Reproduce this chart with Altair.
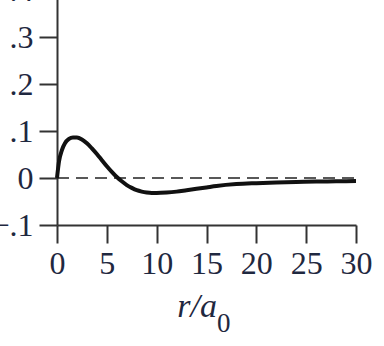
import altair as alt
import pandas as pd

# values
r_vals = [0, 0.2, 0.5, 0.8, 1.2, 1.6, 2.0, 2.5, 3.0, 3.5, 4.0, 4.5, 5.0, 5.5, 6.0,
          6.5, 7.0, 7.5, 8.0, 8.5, 9.0, 9.5, 10.0, 11, 12, 13, 14, 15, 16, 18,
          20, 22, 24, 26, 28, 30]
psi_vals = [0, 0.035, 0.060, 0.074, 0.083, 0.086, 0.086, 0.082, 0.074, 0.063,
            0.051, 0.038, 0.025, 0.013, 0.002, -0.007, -0.015, -0.021, -0.026,
            -0.029, -0.031, -0.032, -0.032, -0.031, -0.029, -0.026, -0.023,
            -0.020, -0.017, -0.013, -0.011, -0.0095, -0.0085, -0.0075, -0.007,
            -0.0065]
x_ticks = [0, 5, 10, 15, 20, 25, 30]
y_ticks = [-0.1, 0, 0.1, 0.2, 0.3, 0.4]

curve_df = pd.DataFrame({"r": r_vals, "v": psi_vals})
zero_df = pd.DataFrame({"r": [0], "r2": [30], "v": [0]})

FONT = "Liberation Serif"
AX = "#333333"
LAB = "#1f2840"

x_scale = alt.Scale(domain=[0, 30], nice=False, zero=False)
y_scale = alt.Scale(domain=[-0.1, 0.4], nice=False, zero=False)

curve = alt.Chart(curve_df).mark_line(
    color="#111111", strokeWidth=4, interpolate="monotone"
).encode(
    x=alt.X("r:Q", scale=x_scale, axis=alt.Axis(
        values=x_ticks, title=None, grid=False, domainColor=AX, domainWidth=2,
        tickColor=AX, tickWidth=2, tickSize=18, labelFont=FONT, labelFontSize=32,
        labelColor=LAB, labelPadding=5, labelFlush=False)),
    y=alt.Y("v:Q", scale=y_scale, axis=alt.Axis(
        values=y_ticks, title=None, grid=False, domainColor=AX, domainWidth=2,
        tickColor=AX, tickWidth=2, tickSize=18, labelFont=FONT, labelFontSize=32,
        labelColor=LAB, labelPadding=6, labelFlush=False,
        labelExpr="datum.value == 0 ? '0' : replace(format(datum.value, '.1f'), '0.', '.')")),
)

zero = alt.Chart(zero_df).mark_rule(
    color="#222222", strokeWidth=1.6, strokeDash=[12, 7]
).encode(x="r:Q", x2="r2:Q", y="v:Q")

title_main = alt.Chart(pd.DataFrame({"t": ["r/a"]})).mark_text(
    font=FONT, fontSize=34, fontStyle="italic", align="right", baseline="alphabetic",
    color=LAB
).encode(text="t:N", x=alt.value(160), y=alt.value(327))

title_sub = alt.Chart(pd.DataFrame({"t": ["0"]})).mark_text(
    font=FONT, fontSize=27, align="left", baseline="alphabetic", color=LAB
).encode(text="t:N", x=alt.value(160), y=alt.value(342))

chart = alt.layer(zero, curve, title_main, title_sub).properties(
    width=299, height=235,
    autosize=alt.AutoSizeParams(type="none"),
    padding={"left": 57, "right": 28, "top": -10, "bottom": 121},
).configure_view(stroke=None)

chart.save("out.html", embed_options={"renderer": "svg", "actions": False})
